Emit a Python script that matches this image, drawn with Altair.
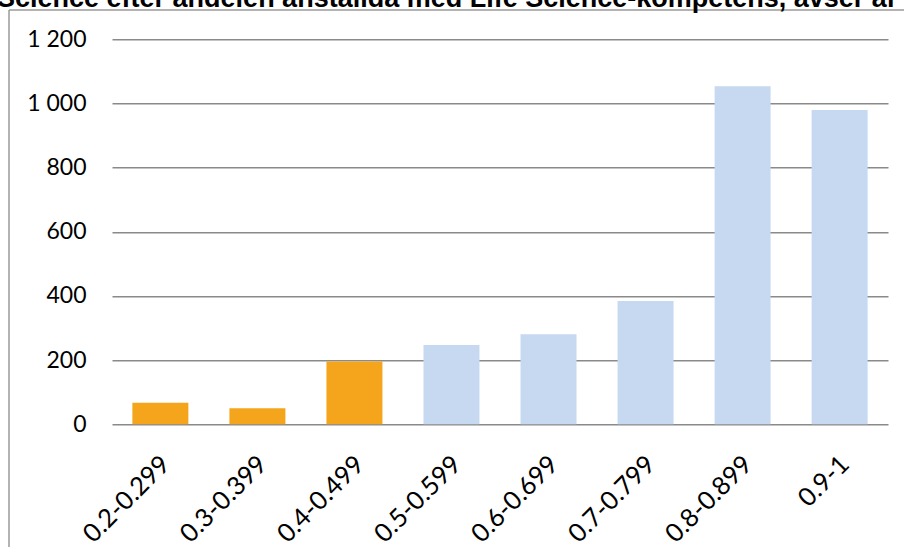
import altair as alt
import pandas as pd

# Number of workplaces by share of staff with Life Science competence
andel = ["0.2-0.299", "0.3-0.399", "0.4-0.499", "0.5-0.599",
         "0.6-0.699", "0.7-0.799", "0.8-0.899", "0.9-1"]
antal = [67, 50, 196, 247, 281, 384, 1054, 980]
rubrik = "Science efter andelen anställda med Life Science-kompetens, avser år"
y_ticks = [0, 200, 400, 600, 800, 1000, 1200]

GRANS = 0.5  # shares below this are highlighted in orange

df = pd.DataFrame({"andel": andel, "antal": antal})
df["under"] = [float(a.split("-")[0]) < GRANS for a in andel]

W, H = 776, 385
PAD_L, PAD_T = 112, 39.3

bars = alt.Chart(df).mark_bar().encode(
    x=alt.X("andel:N", sort=andel, title=None,
            scale=alt.Scale(paddingInner=0.423, paddingOuter=0.21),
            axis=alt.Axis(labelAngle=-45, labelAlign="right", labelBaseline="top",
                          labelPadding=27, labelOffset=-3, ticks=False, tickSize=0,
                          domain=False, labelFont="Lato", labelFontSize=25.5,
                          labelColor="#000000", grid=False)),
    y=alt.Y("antal:Q", title=None,
            scale=alt.Scale(domain=[0, 1200], nice=False),
            axis=alt.Axis(values=y_ticks, ticks=False, tickSize=0, domain=False,
                          labelPadding=26, labelFont="Lato", labelFontSize=23,
                          labelColor="#000000", grid=True, gridColor="#8a8a8a",
                          gridWidth=1.4,
                          labelExpr="replace(format(datum.value, ','), ',', ' ')")),
    color=alt.condition("datum.under", alt.value("#F4A51C"), alt.value("#C6D9F0")),
)

one = pd.DataFrame({"t": [rubrik]})

# Chart frame: left and top edges of the surrounding box
frame_left = alt.Chart(one).mark_rule(color="#9a9a9a", strokeWidth=1.5).encode(
    x=alt.value(9 - PAD_L), y=alt.value(10 - PAD_T), y2=alt.value(700))
frame_top = alt.Chart(one).mark_rule(color="#9a9a9a", strokeWidth=1.5).encode(
    x=alt.value(9 - PAD_L), x2=alt.value(1000), y=alt.value(10 - PAD_T))

title = alt.Chart(one).mark_text(
    align="left", baseline="alphabetic", font="Liberation Sans",
    fontWeight="bold", fontSize=27, color="#000000",
).encode(text="t:N", x=alt.value(-3 - PAD_L), y=alt.value(6.5 - PAD_T))

chart = alt.layer(frame_left, frame_top, bars, title).properties(
    width=W, height=H,
    autosize=alt.AutoSizeParams(type="none"),
    padding={"left": PAD_L, "top": PAD_T, "right": 904 - PAD_L - W,
             "bottom": 547 - PAD_T - H},
    background="white",
).configure_view(stroke=None)

chart.save("out.html", embed_options={"renderer": "svg", "actions": False})
